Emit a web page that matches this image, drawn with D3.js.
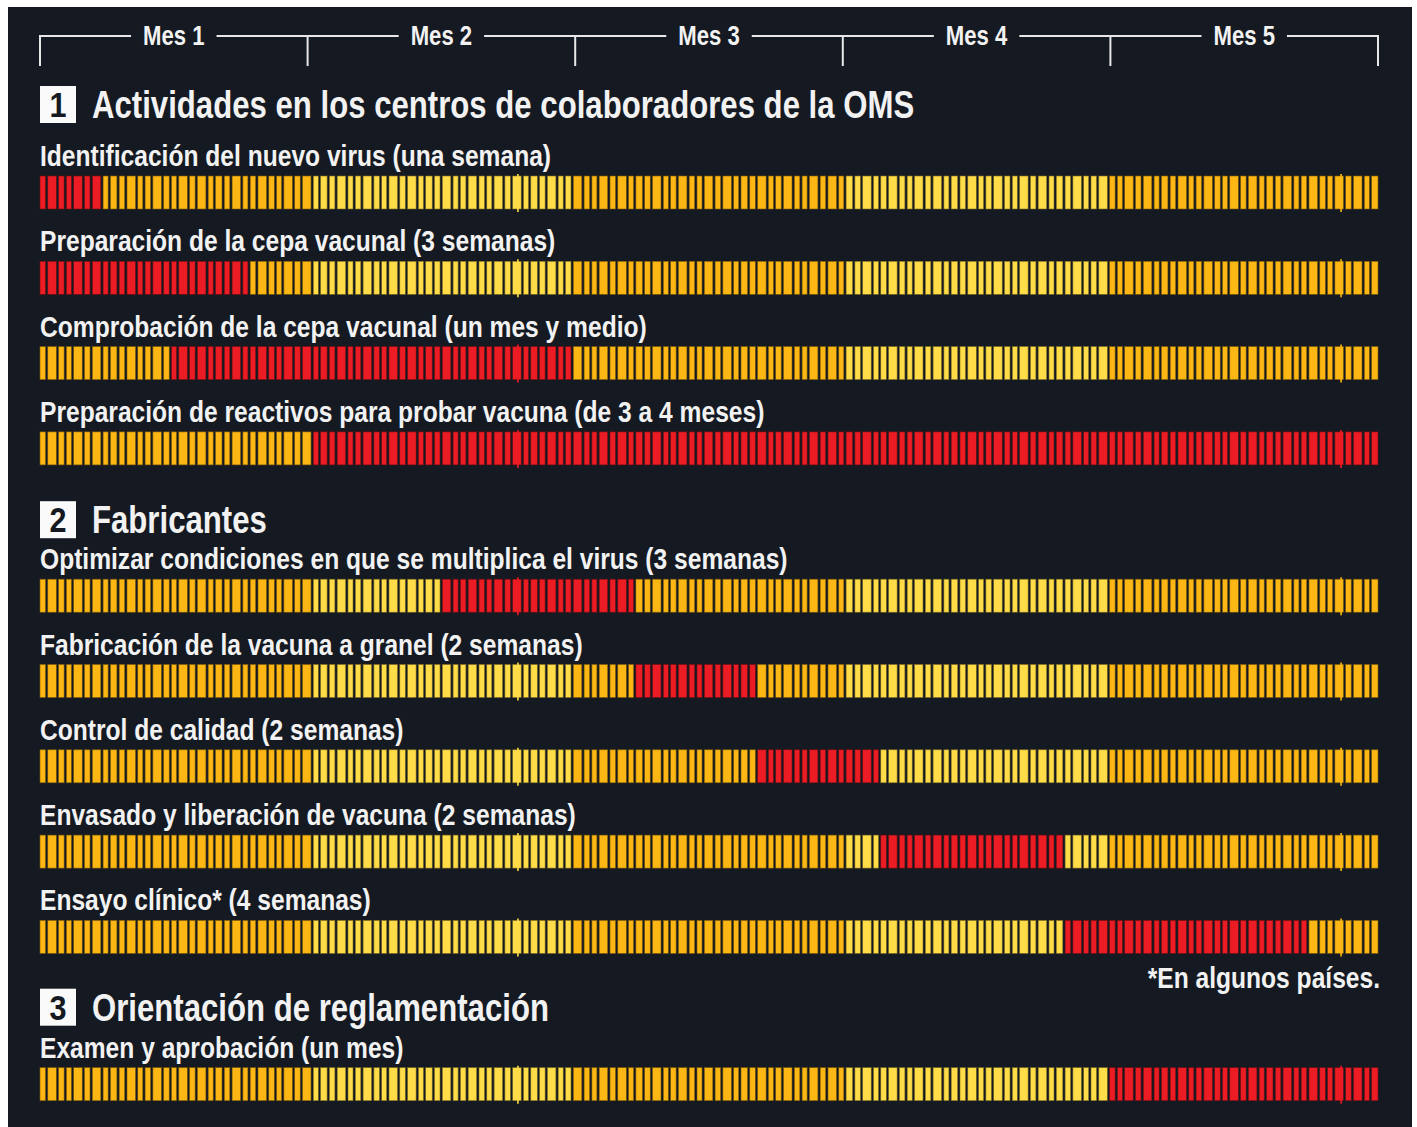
<!DOCTYPE html>
<html>
<head>
<meta charset="utf-8">
<script src="https://cdn.jsdelivr.net/npm/d3@7"></script>
<style>
  body { margin: 0; background: #fff; }
  svg { display: block; }
  text { font-family: "Liberation Sans", Arial, sans-serif; }
</style>
</head>
<body>
<script>
/* chart data */
var months = ["Mes 1", "Mes 2", "Mes 3", "Mes 4", "Mes 5"];
var sections = ["Actividades en los centros de colaboradores de la OMS", "Fabricantes", "Orientación de reglamentación"];
var tasks = [
  "Identificación del nuevo virus (una semana)",
  "Preparación de la cepa vacunal (3 semanas)",
  "Comprobación de la cepa vacunal (un mes y medio)",
  "Preparación de reactivos para probar vacuna (de 3 a 4 meses)",
  "Optimizar condiciones en que se multiplica el virus (3 semanas)",
  "Fabricación de la vacuna a granel (2 semanas)",
  "Control de calidad (2 semanas)",
  "Envasado y liberación de vacuna (2 semanas)",
  "Ensayo clínico* (4 semanas)",
  "Examen y aprobación (un mes)"
];
var taskSection = [0, 0, 0, 0, 1, 1, 1, 1, 1, 2];
var taskStart = [0, 0, 0.5, 1, 1.5, 2.23, 2.68, 3.14, 3.83, 4];   // in months
var taskEnd   = [0.23, 0.78, 2, 5, 2.23, 2.68, 3.14, 3.83, 4.74, 5];
var footnote = "*En algunos países.";
var footnoteRow = 8;
var notches = [1.786, 4.862];

/* layout + styles */
var W = 1417, H = 1127;
var left = 40, right = 1378;
var firstBar = 176, rowStep = 85.3, sectionGap = 62, barH = 33;
var headerLift = [72, 60, 61];
var labelLift = 10;
var condense = 0.82;
var bg = "#151a22", ink = "#f2f2f2";
var red = "#ec1c24", orange = "#fdb714", yellow = "#ffdc48";
var stripePattern = [5.5, 8.5, 5.5, 5, 8.5, 5.5, 8.5, 5, 6.5, 5.5, 8.5, 5];
var stripeGap = 2.3;

var x = d3.scaleLinear().domain([0, months.length]).range([left, right]);

function rowTop(i) { return firstBar + i * rowStep + taskSection[i] * sectionGap; }

function addText(parent, str, px, py, size, anchor, k, fill) {
  var g = parent.append("g")
    .attr("transform", "translate(" + px + "," + py + ") scale(" + k + ",1)");
  return g.append("text")
    .attr("text-anchor", anchor)
    .attr("fill", fill || ink)
    .style("font-size", size + "px")
    .style("font-weight", "bold")
    .text(str);
}

var svg = d3.select("body").append("svg").attr("width", W).attr("height", H);

svg.append("rect").attr("x", 8).attr("y", 7).attr("width", 1404).attr("height", H - 7).attr("fill", bg);

/* month axis on top */
var axisY = 36;
var axis = svg.append("g");
axis.selectAll("line.tick")
  .data(d3.range(months.length + 1))
  .join("line").attr("class", "tick")
  .attr("x1", d => x(d)).attr("x2", d => x(d))
  .attr("y1", axisY - 1).attr("y2", 66)
  .attr("stroke", "#e8e8e8").attr("stroke-width", 2);

months.forEach(function(m, i) {
  var cx = x(i + 0.5);
  var t = addText(axis, m, cx, axisY + 9, 27, "middle", 0.82);
  var half = t.node().getComputedTextLength() * 0.82 / 2;
  axis.append("line").attr("x1", x(i) - 1).attr("x2", cx - half - 12)
    .attr("y1", axisY).attr("y2", axisY).attr("stroke", "#e8e8e8").attr("stroke-width", 2);
  axis.append("line").attr("x1", cx + half + 12).attr("x2", x(i + 1) + 1)
    .attr("y1", axisY).attr("y2", axisY).attr("stroke", "#e8e8e8").attr("stroke-width", 2);
});

/* section headers */
sections.forEach(function(s, si) {
  var first = taskSection.indexOf(si);
  var hy = rowTop(first) - headerLift[si];
  var g = svg.append("g");
  g.append("rect").attr("x", left).attr("y", hy - 18).attr("width", 36).attr("height", 37).attr("fill", "#fafafa");
  addText(g, String(si + 1), left + 18, hy + 13, 36, "middle", 0.85, bg);
  addText(g, s, 92, hy + 14, 38, "start", condense);
});

/* stripes, shared by every bar */
var stripes = [];
var sx = left, k = 0;
while (sx < right - 1) {
  var w = Math.min(stripePattern[k % stripePattern.length], right - sx);
  stripes.push({ a: x.invert(sx), b: x.invert(sx + w) });
  sx += w + stripeGap;
  k++;
}

function stripeColor(mid, i) {
  if (mid >= taskStart[i] && mid < taskEnd[i]) return red;
  return Math.floor(mid) % 2 ? yellow : orange;
}

tasks.forEach(function(name, i) {
  var top = rowTop(i);
  var g = svg.append("g");
  addText(g, name, left, top - labelLift, 30, "start", condense);

  g.selectAll("rect.stripe")
    .data(stripes)
    .join("rect").attr("class", "stripe")
    .attr("x", d => x(d.a))
    .attr("width", d => x(d.b) - x(d.a))
    .attr("y", top)
    .attr("height", barH)
    .attr("fill", d => stripeColor((d.a + d.b) / 2, i))
    .attr("stroke", d => d3.color(stripeColor((d.a + d.b) / 2, i)).darker(2))
    .attr("stroke-width", 0.6);

  g.selectAll("line.notch")
    .data(notches)
    .join("line").attr("class", "notch")
    .attr("x1", d => x(d)).attr("x2", d => x(d))
    .attr("y1", top - 2).attr("y2", top + barH + 3)
    .attr("stroke", d => stripeColor(d, i))
    .attr("stroke-width", 1.6);
});

addText(svg, footnote, right + 2, rowTop(footnoteRow) + barH + 35, 30, "end", condense);
</script>
</body>
</html>
